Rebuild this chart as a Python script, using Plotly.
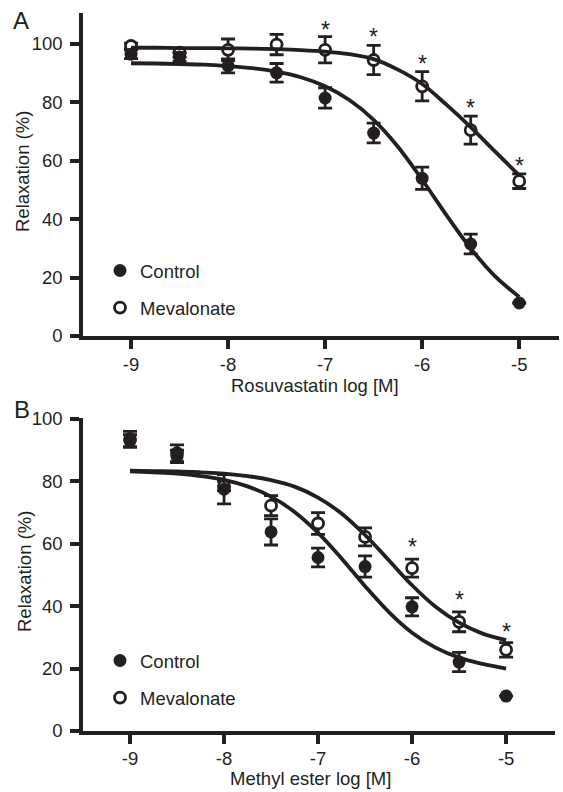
import plotly.graph_objects as go

# ---------------- data ----------------
conc = [-9, -8.5, -8, -7.5, -7, -6.5, -6, -5.5, -5]
x_ticks = [-9, -8, -7, -6, -5]
x_tick_labels = ["-9", "-8", "-7", "-6", "-5"]
y_ticks = [0, 20, 40, 60, 80, 100]

# Panel A (Rosuvastatin)
a_control = [96.5, 95.5, 92.5, 90.1, 81.5, 69.5, 54.0, 31.5, 11.3]
a_control_err = [1.5, 1.5, 2.4, 3.2, 3.5, 3.4, 3.8, 3.4, None]
a_meval = [99.3, 97.0, 98.0, 99.8, 98.0, 94.5, 85.5, 70.5, 53.0]
a_meval_err = [1.0, 1.5, 3.7, 3.5, 4.5, 5.0, 5.0, 4.8, 2.5]

fit_x = [-9, -8.75, -8.5, -8.25, -8, -7.75, -7.5, -7.25, -7,
         -6.75, -6.5, -6.25, -6, -5.75, -5.5, -5.25, -5]
a_control_fit = [93.4, 93.3, 93.1, 92.9, 92.4, 91.7, 90.5, 88.6, 85.5,
                 80.8, 74.0, 64.8, 53.5, 41.4, 30.0, 20.5, 13.4]
a_meval_fit = [98.7, 98.7, 98.6, 98.6, 98.5, 98.4, 98.2, 97.9, 97.4,
               96.5, 94.8, 91.2, 86.3, 79.2, 71.5, 63.2, 55.0]
a_star_x = [-7, -6.5, -6, -5.5, -5]
a_star_y = [106.5, 104.1, 94.9, 79.8, 59.9]

# Panel B (Methyl ester)
b_control = [93.0, 88.0, 77.5, 63.8, 55.6, 52.7, 39.8, 22.1, 11.2]
b_control_err = [2.0, 2.0, 4.7, 4.2, 3.0, 3.4, 2.9, 3.1, None]
b_meval = [93.5, 89.0, 78.5, 72.2, 66.5, 62.2, 52.2, 35.0, 26.0]
b_meval_err = [2.5, 2.7, 1.5, 3.2, 3.5, 2.9, 2.9, 3.2, 2.3]
b_control_fit = [83.2, 82.9, 82.5, 81.7, 80.5, 78.4, 75.1, 70.2, 63.5,
                 55.3, 46.4, 38.2, 31.5, 26.7, 23.5, 21.5, 20.0]
b_meval_fit = [83.4, 83.3, 83.2, 82.9, 82.5, 81.7, 80.4, 78.3, 74.8,
               69.7, 62.8, 54.8, 46.7, 39.8, 34.7, 31.2, 29.1]
b_star_x = [-6, -5.5, -5]
b_star_y = [60.6, 43.6, 33.3]

# ---------------- style ----------------
W, H = 563, 792
INK = "#231f20"
FONT = "Liberation Sans, Arial, Helvetica, sans-serif"
FS = 18.5


def px_x(p):
    return p / W


def px_y(p):
    return 1 - p / H


fig = go.Figure()


def add_panel(xa, ya, legend, control, control_err, meval, meval_err,
              control_fit, meval_fit):
    # Mevalonate (open circles) drawn first, control on top
    fig.add_trace(go.Scatter(
        x=conc, y=meval, mode="markers", name="Mevalonate",
        xaxis=xa, yaxis=ya, legend=legend, legendrank=2,
        legendgroup=legend + "m",
        marker=dict(symbol="circle", size=11, color="white",
                    line=dict(color=INK, width=2.8)),
        error_y=dict(type="data", array=meval_err, color=INK,
                     thickness=2.8, width=7),
        cliponaxis=False,
    ))
    fig.add_trace(go.Scatter(
        x=conc, y=control, mode="markers", name="Control",
        xaxis=xa, yaxis=ya, legend=legend, legendrank=1,
        legendgroup=legend + "c",
        marker=dict(symbol="circle", size=13, color=INK,
                    line=dict(width=0)),
        error_y=dict(type="data", array=control_err, color=INK,
                     thickness=2.8, width=7),
        cliponaxis=False,
    ))
    for fit in (control_fit, meval_fit):
        fig.add_trace(go.Scatter(
            x=fit_x, y=fit, mode="lines", showlegend=False,
            xaxis=xa, yaxis=ya, hoverinfo="skip",
            line=dict(color=INK, width=3.8, shape="spline", smoothing=1.0),
            cliponaxis=False,
        ))


add_panel("x", "y", "legend", a_control, a_control_err, a_meval,
          a_meval_err, a_control_fit, a_meval_fit)
add_panel("x2", "y2", "legend2", b_control, b_control_err, b_meval,
          b_meval_err, b_control_fit, b_meval_fit)

annotations = []
for xs, ys, xr, yr in ((a_star_x, a_star_y, "x", "y"),
                       (b_star_x, b_star_y, "x2", "y2")):
    for xv, yv in zip(xs, ys):
        annotations.append(dict(x=xv, y=yv, xref=xr, yref=yr, text="*",
                                showarrow=False, yshift=-5,
                                xanchor="center", yanchor="middle",
                                font=dict(family=FONT, size=23, color=INK)))


def paper_text(xp, yp, text, size, angle=0):
    return dict(x=px_x(xp), y=px_y(yp), xref="paper", yref="paper",
                text=text, showarrow=False, textangle=angle,
                xanchor="center", yanchor="middle",
                font=dict(family=FONT, size=size, color=INK))


# panel letters
annotations.append(paper_text(21, 20, "A", 24))
annotations.append(paper_text(22, 409, "B", 24))
# axis titles
annotations.append(paper_text(23, 172, "Relaxation (%)", FS, -90))
annotations.append(paper_text(24, 572, "Relaxation (%)", FS, -90))
annotations.append(paper_text(315, 385, "Rosuvastatin log [M]", FS))
annotations.append(paper_text(310, 778, "Methyl ester log [M]", FS))

axis_common = dict(
    showline=True, linecolor=INK, linewidth=3.5, ticks="outside",
    ticklen=9, tickwidth=3.5, tickcolor=INK, showgrid=False, zeroline=False,
    tickfont=dict(family=FONT, size=FS, color=INK), automargin=False,
    fixedrange=True,
)

legend_common = dict(
    bgcolor="rgba(0,0,0,0)", borderwidth=0, tracegroupgap=10,
    font=dict(family=FONT, size=FS, color=INK), xanchor="left",
    yanchor="top", itemclick=False, traceorder="grouped",
)

fig.update_layout(
    width=W, height=H,
    margin=dict(l=0, r=0, t=0, b=0),
    paper_bgcolor="white", plot_bgcolor="white",
    showlegend=True,
    font=dict(family=FONT, size=FS, color=INK),
    xaxis=dict(domain=[px_x(83), px_x(559)], range=[-9.495, -4.59],
               tickvals=x_ticks, ticktext=x_tick_labels, anchor="y",
               ticklabelstandoff=0, **axis_common),
    yaxis=dict(domain=[px_y(336), px_y(13)], range=[0, 110.6],
               tickvals=y_ticks, anchor="x", ticklabelstandoff=4,
               **axis_common),
    xaxis2=dict(domain=[px_x(83), px_x(555)], range=[-9.5, -4.48],
                tickvals=x_ticks, ticktext=x_tick_labels, anchor="y2",
                ticklabelstandoff=-1, **axis_common),
    yaxis2=dict(domain=[px_y(731), px_y(418)], range=[0, 100.3],
                tickvals=y_ticks, anchor="x2", ticklabelstandoff=4,
                **axis_common),
    legend=dict(x=px_x(100), y=px_y(252), **legend_common),
    legend2=dict(x=px_x(100), y=px_y(642), **legend_common),
    annotations=annotations,
)

fig.write_html(
    "out.html",
    config={"displayModeBar": False, "staticPlot": False},
    post_script="document.body.style.margin='0px';"
                "document.body.style.overflow='hidden';",
)
